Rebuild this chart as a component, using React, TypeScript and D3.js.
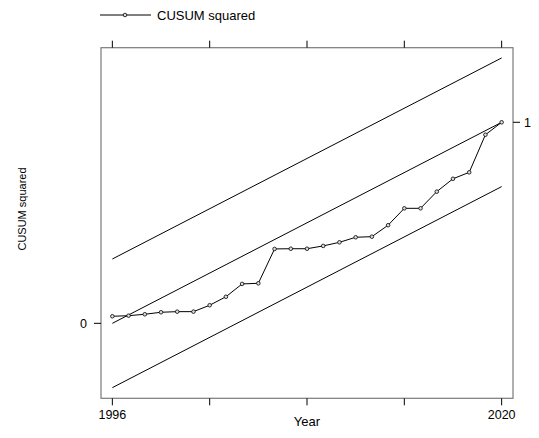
import React from "react";
import * as d3 from "d3";

const years: number[] = [1996,1997,1998,1999,2000,2001,2002,2003,2004,2005,2006,2007,2008,2009,2010,2011,2012,2013,2014,2015,2016,2017,2018,2019,2020];
const cusumSq: number[] = [0.035,0.038,0.045,0.055,0.058,0.058,0.090,0.132,0.196,0.199,0.370,0.371,0.371,0.385,0.403,0.428,0.431,0.488,0.572,0.572,0.655,0.719,0.751,0.938,1.0];
const xTicks: number[] = [1996, 2002, 2008, 2014, 2020];
const xTickLabels: string[] = ["1996", "", "", "", "2020"];
const bandOffset = 0.32;
const startYear = 1996;
const endYear = 2020;

export default function App() {
  const W = 539, H = 438;
  const left = 101, right = 513, top = 47.7, bottom = 398.3;
  const x = d3.scaleLinear().domain([1995.3, 2020.7]).range([left, right]);
  const y = d3.scaleLinear().domain([-0.373, 1.371]).range([bottom, top]);
  const line = d3.line<number>().x((_, i) => x(years[i])).y((d) => y(d));
  const expected = (t: number) => (t - startYear) / (endYear - startYear);
  const seg = (off: number) => (
    <line x1={x(startYear)} y1={y(expected(startYear) + off)} x2={x(endYear)} y2={y(expected(endYear) + off)} stroke="#000" strokeWidth={1} />
  );
  const font = "Liberation Sans, Arial, sans-serif";
  return (
    <svg width={W} height={H} style={{ position: "absolute", left: 0, top: 0, background: "#fff" }}>
      <rect x={0} y={0} width={W} height={H} fill="#fff" />
      {/* legend */}
      <line x1={100} y1={15} x2={151} y2={15} stroke="#000" strokeWidth={1} />
      <circle cx={125} cy={15} r={1.8} fill="#ddd" stroke="#000" strokeWidth={0.8} />
      <text x={157} y={19.5} fontFamily={font} fontSize={13} fill="#000">CUSUM squared</text>
      {/* frame */}
      <rect x={left} y={top} width={right - left} height={bottom - top} fill="none" stroke="#7a7a7a" strokeWidth={1.2} />
      {/* x ticks */}
      {xTicks.map((t, i) => (
        <g key={t}>
          <line x1={x(t)} x2={x(t)} y1={bottom} y2={bottom + 7} stroke="#000" />
          <line x1={x(t)} x2={x(t)} y1={top} y2={top - 7} stroke="#000" />
          {xTickLabels[i] && (
            <text x={x(t)} y={419} textAnchor="middle" fontFamily={font} fontSize={12.5}>{xTickLabels[i]}</text>
          )}
        </g>
      ))}
      <text x={(left + right) / 2} y={426} textAnchor="middle" fontFamily={font} fontSize={13}>Year</text>
      {/* y axes */}
      <line x1={left} x2={left - 7} y1={y(0)} y2={y(0)} stroke="#000" />
      <text x={87} y={y(0) + 4.5} textAnchor="end" fontFamily={font} fontSize={12.5}>0</text>
      <line x1={right} x2={right + 7} y1={y(1)} y2={y(1)} stroke="#000" />
      <text x={524} y={y(1) + 4.5} textAnchor="start" fontFamily={font} fontSize={12.5}>1</text>
      <text transform={`translate(26,209) rotate(-90)`} textAnchor="middle" fontFamily={font} fontSize={11}>CUSUM squared</text>
      {/* bands */}
      {seg(bandOffset)}
      {seg(0)}
      {seg(-bandOffset)}
      {/* series */}
      <path d={line(cusumSq) || ""} fill="none" stroke="#000" strokeWidth={1} />
      {cusumSq.map((v, i) => (
        <circle key={i} cx={x(years[i])} cy={y(v)} r={1.8} fill="#ddd" stroke="#000" strokeWidth={0.8} />
      ))}
    </svg>
  );
}
